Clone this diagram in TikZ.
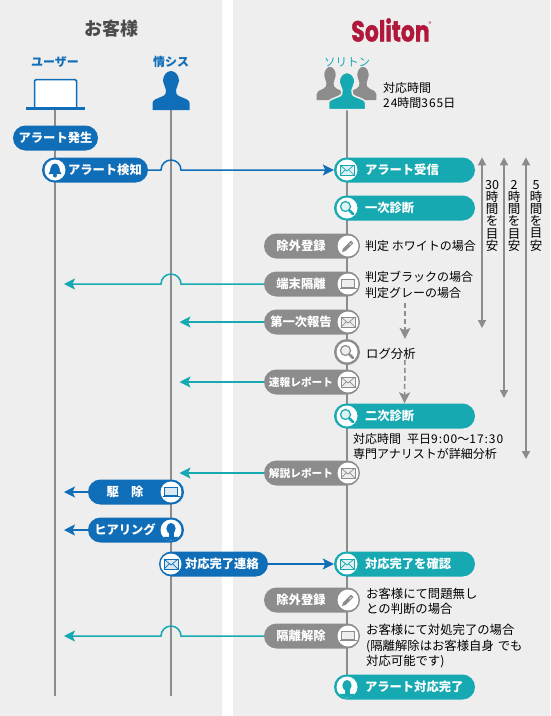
\documentclass[tikz,border=0pt]{standalone}
\usepackage{fontspec}
\setmainfont{Noto Sans CJK JP}
\newfontfamily\logofont{Poppins}[BoldFeatures={FakeBold=1.5}]
\newcommand{\wide}[1]{{\addfontfeatures{LetterSpace=8}#1}}
\usetikzlibrary{arrows.meta}
\definecolor{panelgray}{HTML}{EEEEEE}
\definecolor{custblue}{HTML}{106DB7}
\definecolor{solteal}{HTML}{17A9B1}
\definecolor{linegray}{HTML}{8C8C8C}
\definecolor{logored}{HTML}{B0173A}
\tikzset{
  pill/.style={rounded corners=12.5pt, minimum height=25pt, inner sep=0pt, text=white, font=\fontsize{12.3}{14}\selectfont\bfseries},
  iconleft/.style={text width=#1, align=left, execute at begin node={\hspace*{26pt}}},
  iconright/.style={text width=96pt, align=center, execute at end node={\hspace*{22pt}}},
  tealpill/.style={pill, fill=solteal, text width=141pt, align=left, execute at begin node={\hspace*{31pt}}},
  graypill/.style={pill, fill=linegray, iconright},
  bluepill/.style={pill, fill=custblue},
  note/.style={anchor=west, inner sep=0pt, align=left, font=\fontsize{12}{15.5}\selectfont},
  bignote/.style={note, font=\fontsize{12.35}{15.5}\selectfont},
  actor/.style={inner sep=0pt, font=\fontsize{12}{14}\selectfont\bfseries},
  duration/.style={anchor=north, inner sep=0pt, align=center, font=\fontsize{12.5}{12.2}\selectfont},
  life/.style={linegray, line width=1.6pt},
  bluearrow/.style={custblue, line width=1.5pt, -{Stealth[length=11pt,width=11pt,inset=2.5pt]}},
  tealarrow/.style={solteal, line width=1.5pt, -{Stealth[length=11pt,width=11pt,inset=2.5pt]}},
  spanarrow/.style={linegray, line width=1.5pt, {Triangle[length=8pt,width=8pt]}-{Triangle[length=8pt,width=8pt]}},
  dasharrow/.style={linegray, line width=1.5pt, dash pattern=on 5pt off 3pt, -{Stealth[length=11pt,width=11pt,inset=2.5pt]}},
  pics/bigperson/.style={code={
    \path[pic actions] (-18.5,0) -- (-18.5,7) .. controls (-18.5,10) and (-15,11) .. (-9,13.5) .. controls (-5,15) and (-5,17) .. (-5,20) -- (-8,29) arc[start angle=180, end angle=0, x radius=8pt, y radius=10pt] -- (5,20) .. controls (5,17) and (5,15) .. (9,13.5) .. controls (15,11) and (18.5,10) .. (18.5,7) -- (18.5,0) -- cycle;
  }},
  pics/mailicon/.style={code={
    \fill[white] (0,0) circle (10.5pt);
    \draw[#1, line width=.9pt, fill=#1!15] (-7,-5) rectangle (7,5);
    \draw[#1, line width=.7pt] (-7,5) -- (0,-1) -- (7,5) (-7,-5) -- (-1.5,.5) (7,-5) -- (1.5,.5);
  }},
  pics/searchicon/.style={code={
    \fill[white] (0,0) circle (10.5pt);
    \draw[#1, line width=1.2pt, fill=#1!15] (-1.5,1.5) circle (5pt);
    \draw[#1, line width=2.6pt, line cap=round] (2.5,-2.5) -- (6,-6);
  }},
  pics/pencilicon/.style={code={
    \fill[white] (0,0) circle (10.5pt);
    \fill[#1] (-6,-6) -- (-5,-2.5) -- (3,5.5) -- (5.5,3) -- (-2.5,-5) -- cycle;
    \draw[white, line width=.5pt] (3.5,3) -- (1.5,1);
  }},
  pics/pcicon/.style={code={
    \fill[white] (0,0) circle (10.5pt);
    \draw[#1, line width=.9pt, fill=#1!15] (-6.5,-3.5) rectangle (6.5,5);
    \draw[#1, line width=1.2pt] (-8.5,-4.6) -- (8.5,-4.6);
  }},
  pics/personicon/.style={code={
    \fill[white] (0,0) circle (10.5pt);
    \fill[#1] (0,1.5) ellipse (4.6pt and 5.6pt);
    \fill[#1] (-2.5,-7) rectangle (2.5,0);
    \fill[#1] (-8,-6.8) -- (8,-6.8) arc[start angle=-40, end angle=-140, radius=10.5pt] -- cycle;
  }},
  pics/bellicon/.style={code={
    \fill[white] (0,0) circle (10.5pt);
    \fill[#1] (-6.5,-4) .. controls (-4.5,-2.5) and (-5,0) .. (-4.5,2) .. controls (-4,5) and (-2,6.5) .. (0,6.5) .. controls (2,6.5) and (4,5) .. (4.5,2) .. controls (5,0) and (4.5,-2.5) .. (6.5,-4) -- cycle;
    \fill[#1] (0,-5.5) circle (2pt);
  }}
}
\begin{document}
\begin{tikzpicture}[x=1pt, y=1pt]
\useasboundingbox (0,0) rectangle (550,-716);
\fill[panelgray] (0,0) rectangle (222,-716);
\fill[panelgray] (233,0) rectangle (550,-716);
\coordinate (usertop) at (55,-108);
\coordinate (userend) at (55,-696);
\coordinate (infotop) at (171,-108);
\coordinate (infoend) at (171,-696);
\coordinate (soltop) at (347,-108);
\coordinate (solend) at (347,-680);
\draw[life] (usertop) -- (userend);
\draw[life] (infotop) -- (infoend);
\draw[life] (soltop) -- (solend);
\node (cust) [inner sep=0pt, text=black!70, font=\fontsize{18}{20}\selectfont\bfseries] at (111,-29) {お客様};
\node (logo) [inner sep=0pt, text=logored, xscale=.76, transform shape, font=\logofont\fontsize{29}{30}\selectfont\bfseries] at (390.5,-30) {Soliton};
\node (reg) [inner sep=0pt, text=logored, font=\fontsize{6}{6}\selectfont] at (430,-24) {®};
\draw[custblue, fill=white, line width=1.5pt, rounded corners=1.5pt] (34.5,-107) -- (34.5,-79.5) -- (76.5,-79.5) -- (76.5,-107);
\fill[custblue] (26,-107) rectangle (85,-109.5);
\pic[fill=custblue] at (171,-110) {bigperson};
\pic[fill=linegray, xscale=.72, yscale=.85] at (330,-100) {bigperson};
\pic[fill=linegray, xscale=.72, yscale=.85] at (363,-100) {bigperson};
\pic[fill=solteal, draw=panelgray, line width=1.5pt, yscale=.95] at (347,-109.5) {bigperson};
\node (user) [actor, text=custblue] at (55,-62) {ユーザー};
\node (info) [actor, text=custblue] at (171,-62) {情シス};
\node (sol) [actor, text=solteal, font=\fontsize{11.5}{14}\selectfont] at (347,-62) {ソリトン};
\node (hours) [note] at (383,-95.5) {対応時間\\\wide{24}時間\wide{365}日};
\node (occur) [bluepill, minimum width=85pt] at (55.5,-138) {アラート発生};
\node (detect) [bluepill, iconleft=106pt] at (95,-170) {アラート検知};
\pic at (55,-170) {bellicon=custblue};
\node (recv) [tealpill] at (404.5,-170) {アラート受信};
\pic at (347,-170) {mailicon=solteal};
\node (first) [tealpill] at (404.5,-208) {一次診断};
\pic at (347,-208) {searchicon=solteal};
\node (white) [graypill] at (312,-246) {除外登録};
\pic at (348,-246) {pencilicon=linegray};
\node (isolate) [graypill] at (312,-284) {端末隔離};
\pic at (348,-284) {pcicon=linegray};
\node (report) [graypill] at (312,-322) {第一次報告};
\pic at (348,-322) {mailicon=linegray};
\node (log) [circle, fill=linegray, minimum size=26pt, inner sep=0pt] at (347,-352) {};
\pic at (log) {searchicon=linegray};
\node (quick) [graypill, font=\fontsize{10.7}{13}\selectfont\bfseries] at (312,-382) {速報レポート};
\pic at (348,-382) {mailicon=linegray};
\node (second) [tealpill] at (404.5,-416) {二次診断};
\pic at (347,-416) {searchicon=solteal};
\node (comment) [graypill, font=\fontsize{10.7}{13}\selectfont\bfseries] at (312,-473) {解説レポート};
\pic at (348,-473) {mailicon=linegray};
\node (remove) [bluepill, iconright] at (136,-492) {駆　除};
\pic at (171,-492) {pcicon=custblue};
\node (hear) [bluepill, iconright] at (136,-530) {ヒアリング};
\pic at (171,-530) {personicon=custblue};
\node (notify) [bluepill, iconleft=109pt] at (213.5,-564) {対応完了連絡};
\pic at (171,-564) {mailicon=custblue};
\node (confirm) [tealpill] at (404.5,-564) {対応完了を確認};
\pic at (347,-564) {mailicon=solteal};
\node (exclude) [graypill] at (312,-600) {除外登録};
\pic at (348,-600) {pencilicon=linegray};
\node (release) [graypill] at (312,-636) {隔離解除};
\pic at (348,-636) {pcicon=linegray};
\node (done) [tealpill] at (404.5,-687) {アラート対応完了};
\pic at (347,-687) {personicon=solteal};
\node (nwhite) [note] at (365,-246) {判定 ホワイトの場合};
\node (nblack) [note] at (365,-285) {判定ブラックの場合\\判定グレーの場合};
\node (nlog) [bignote] at (366,-354) {ログ分析};
\node (nsecond) [note] at (353,-446.5) {対応時間\hspace{6pt}平日\wide{9:00}～\wide{17:30}\\専門アナリストが詳細分析};
\node (nexclude) [bignote] at (366,-601.5) {お客様にて問題無し\\との判断の場合};
\node (nrelease) [bignote] at (366,-646.5) {お客様にて対処完了の場合\\(隔離解除はお客様自身\hspace{4pt}でも\\対応可能です)};
\node (t30) [duration] at (492,-180) {30\\時\\間\\を\\目\\安};
\node (t2) [duration] at (514,-180) {2\\時\\間\\を\\目\\安};
\node (t5) [duration] at (536,-180) {5\\時\\間\\を\\目\\安};
\coordinate (s30) at (482,-328);
\coordinate (s2) at (504,-398);
\coordinate (s5) at (526,-459);
\draw[spanarrow] (s30 |- recv.north) -- (s30);
\draw[spanarrow] (s2 |- recv.north) -- (s2);
\draw[spanarrow] (s5 |- recv.north) -- (s5);
\coordinate (dashtop) at (405,-303);
\draw[dasharrow] (dashtop) -- (dashtop |- log.north);
\draw[dasharrow] (dashtop |- nlog.south) -- (second.north);
\coordinate (hitleft) at (64,-284);
\coordinate (hitinfo) at (179.5,-322);
\coordinate (hitquick) at (179.5,-382);
\coordinate (hitcomment) at (179.5,-473);
\coordinate (hitrelease) at (64,-636);
\coordinate (hitremove) at (64,-492);
\coordinate (hithear) at (64,-530);
\draw[bluearrow] (detect.east) -- (161,-170) arc[start angle=180, end angle=0, radius=10pt] -- (recv.west);
\draw[tealarrow] (isolate.west) -- (181,-284) arc[start angle=0, end angle=180, radius=10pt] -- (hitleft);
\draw[tealarrow] (report.west) -- (hitinfo);
\draw[tealarrow] (quick.west) -- (hitquick);
\draw[tealarrow] (comment.west) -- (hitcomment);
\draw[bluearrow] (remove.west) -- (hitremove);
\draw[bluearrow] (hear.west) -- (hithear);
\draw[bluearrow] (notify.east) -- (confirm.west);
\draw[tealarrow] (release.west) -- (181,-636) arc[start angle=0, end angle=180, radius=10pt] -- (hitrelease);
\end{tikzpicture}
\end{document}
